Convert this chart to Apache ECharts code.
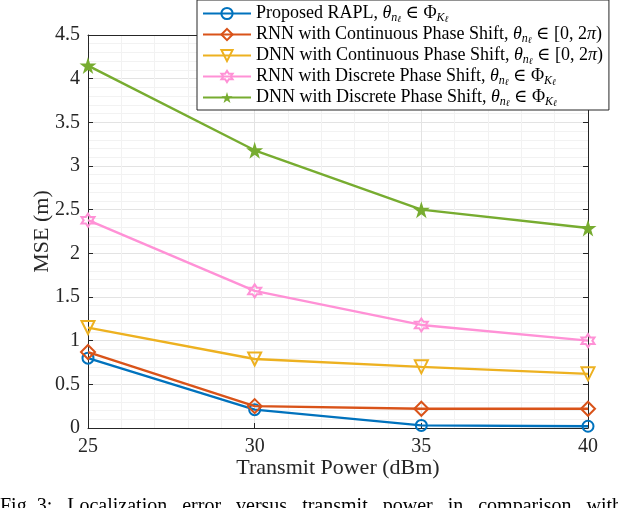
<!DOCTYPE html>
<html>
<head>
<meta charset="utf-8">
<script src="https://cdn.jsdelivr.net/npm/echarts@6/dist/echarts.min.js"></script>
<style>
html,body{margin:0;padding:0;background:#fff;}
#c{width:618px;height:508px;}
</style>
</head>
<body>
<div id="c"></div>
<script>
const xValues = [25, 30, 35, 40];
const rapl = [0.80, 0.21, 0.03, 0.02];
const rnnCont = [0.87, 0.25, 0.22, 0.22];
const dnnCont = [1.15, 0.79, 0.70, 0.62];
const rnnDisc = [2.38, 1.57, 1.18, 1.00];
const dnnDisc = [4.15, 3.18, 2.50, 2.29];
const seriesNames = [
  'Proposed RAPL',
  'RNN with Continuous Phase Shift',
  'DNN with Continuous Phase Shift',
  'RNN with Discrete Phase Shift',
  'DNN with Discrete Phase Shift'
];
const seriesSuffix = ['phi', 'cont', 'cont', 'phi', 'phi'];
const colors = ['#0072BD', '#D95319', '#EDB120', '#FF91D6', '#77AC30'];
const xLabel = 'Transmit Power (dBm)';
const yLabel = 'MSE (m)';

const FONT = '"Liberation Serif", "DejaVu Serif", serif';
const pentagram = 'path://M50,0 L61.2,34.5 L97.6,34.5 L68.2,55.9 L79.4,90.5 L50,69.1 L20.6,90.5 L31.8,55.9 L2.4,34.5 L38.8,34.5 Z';
const hexagram = 'path://M50,0 L64.4,25 L93.3,25 L78.9,50 L93.3,75 L64.4,75 L50,100 L35.6,75 L6.7,75 L21.1,50 L6.7,25 L35.6,25 Z';

const symbolDefs = [
  {symbol: 'circle', size: 11, rotate: 0, filled: false},
  {symbol: 'diamond', size: 14, rotate: 0, filled: false},
  {symbol: 'triangle', size: 13, rotate: 180, filled: false},
  {symbol: hexagram, size: 13, rotate: 0, filled: false},
  {symbol: pentagram, size: 17, rotate: 0, filled: true}
];
const dataSets = [rapl, rnnCont, dnnCont, rnnDisc, dnnDisc];

const series = dataSets.map((vals, i) => {
  const s = symbolDefs[i];
  return {
    name: seriesNames[i],
    type: 'line',
    data: xValues.map((x, j) => [x, vals[j]]),
    symbol: s.symbol,
    symbolSize: s.size,
    symbolRotate: s.rotate,
    showAllSymbol: true,
    lineStyle: {color: colors[i], width: 2.4},
    itemStyle: {
      color: s.filled ? colors[i] : 'rgba(255,255,255,0)',
      borderColor: colors[i],
      borderWidth: s.filled ? 0 : 2
    },
    emphasis: {disabled: true},
    z: 3 + i
  };
});

const chart = echarts.init(document.getElementById('c'), null, {renderer: 'canvas'});
chart.setOption({
  animation: false,
  backgroundColor: '#fff',
  grid: {left: 88, right: 30, top: 35, bottom: 80, containLabel: false},
  legend: {
    orient: 'vertical',
    left: 197,
    top: 0,
    padding: [3, 6, 2, 5],
    itemGap: 0,
    itemWidth: 48,
    itemHeight: 14,
    backgroundColor: '#fff',
    borderColor: '#262626',
    borderWidth: 1,
    borderRadius: 0,
    data: seriesNames,
    formatter: function (name) {
      const i = seriesNames.indexOf(name);
      if (seriesSuffix[i] === 'cont') {
        return name + ', {it|θ}{sub|n}{ss|ℓ} ∈ [0, 2{it|π})';
      }
      return name + ', {it|θ}{sub|n}{ss|ℓ} ∈ Φ{sub|K}{ss|ℓ}';
    },
    textStyle: {
      fontFamily: FONT, fontSize: 18, color: '#000', lineHeight: 21,
      rich: {
        it: {fontFamily: FONT, fontSize: 18, fontStyle: 'italic', color: '#000', lineHeight: 21},
        sub: {fontFamily: FONT, fontSize: 12, fontStyle: 'italic', color: '#000', lineHeight: 21, verticalAlign: 'bottom'},
        ss: {fontFamily: FONT, fontSize: 9, fontStyle: 'italic', color: '#000', lineHeight: 21, verticalAlign: 'bottom'}
      }
    }
  },
  xAxis: [{
    type: 'value', min: 25, max: 40, interval: 5, position: 'bottom',
    name: xLabel, nameLocation: 'middle', nameGap: 29, nameMoveOverlap: false,
    nameTextStyle: {fontFamily: FONT, fontSize: 22, color: '#262626'},
    axisLine: {show: true, onZero: false, lineStyle: {color: '#262626', width: 1}},
    axisTick: {show: true, inside: true, length: 5, lineStyle: {color: '#262626'}},
    axisLabel: {fontFamily: FONT, fontSize: 20, color: '#262626', margin: 9},
    minorTick: {show: false, splitNumber: 5},
    splitLine: {show: true, lineStyle: {color: '#e3e3e3', width: 1}},
    minorSplitLine: {show: true, lineStyle: {color: '#f2f2f2', width: 1}}
  }, {
    type: 'value', min: 25, max: 40, interval: 5, position: 'top',
    axisLine: {show: true, onZero: false, lineStyle: {color: '#262626', width: 1}},
    axisTick: {show: true, inside: true, length: 5, lineStyle: {color: '#262626'}},
    axisLabel: {show: false},
    splitLine: {show: false}
  }],
  yAxis: [{
    type: 'value', min: 0, max: 4.5, interval: 0.5, position: 'left',
    name: yLabel, nameLocation: 'middle', nameGap: 35, nameRotate: 90, nameMoveOverlap: false,
    nameTextStyle: {fontFamily: FONT, fontSize: 22, color: '#262626'},
    axisLine: {show: true, onZero: false, lineStyle: {color: '#262626', width: 1}},
    axisTick: {show: true, inside: true, length: 5, lineStyle: {color: '#262626'}},
    axisLabel: {fontFamily: FONT, fontSize: 20, color: '#262626', margin: 8},
    minorTick: {show: false, splitNumber: 5},
    splitLine: {show: true, lineStyle: {color: '#e3e3e3', width: 1}},
    minorSplitLine: {show: true, lineStyle: {color: '#f2f2f2', width: 1}}
  }, {
    type: 'value', min: 0, max: 4.5, interval: 0.5, position: 'right',
    axisLine: {show: true, onZero: false, lineStyle: {color: '#262626', width: 1}},
    axisTick: {show: true, inside: true, length: 5, lineStyle: {color: '#262626'}},
    axisLabel: {show: false},
    splitLine: {show: false}
  }],
  graphic: [{
    type: 'text', left: 0, top: 497,
    style: {text: 'Fig. 3:   Localization   error   versus   transmit   power   in   comparison   with', font: '20px ' + FONT, fill: '#000'}
  }],
  series: series
});
</script>
</body>
</html>
